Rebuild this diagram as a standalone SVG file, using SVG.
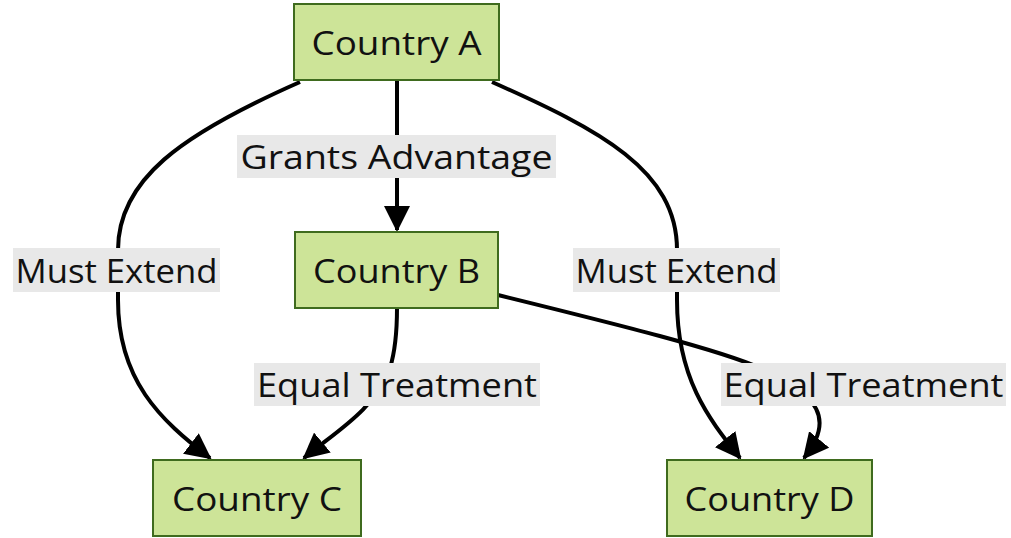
<svg xmlns="http://www.w3.org/2000/svg" width="1011" height="538" viewBox="0 0 1011 538">
<style>
.node rect{fill:#cde498;stroke:#3f6b1e;stroke-width:2}
text{font-family:"Open Sans","Noto Sans",sans-serif;font-size:33px;fill:#111;text-anchor:middle;dominant-baseline:central}
.edge{fill:none;stroke:#000;stroke-width:4}
.lbl rect{fill:#e8e8e8}
</style>
<defs>
<marker id="ah" markerUnits="userSpaceOnUse" markerWidth="26" markerHeight="26" viewBox="0 0 26 26" refX="24" refY="13" orient="auto">
<path d="M0,0 L26,13 L0,26 Z" fill="#000"/>
</marker>
</defs>
<rect width="1011" height="538" fill="#fff"/>
<g id="connectors">
<path class="edge" d="M397,80 L397,230" marker-end="url(#ah)"/>
<path class="edge" d="M300,82 C180,135 118,180 118,250 L118,300 C118,380 160,420 210,458" marker-end="url(#ah)"/>
<path class="edge" d="M492,82 C600,130 677,170 677,250 L677,300 C677,380 710,420 740,458" marker-end="url(#ah)"/>
<path class="edge" d="M397,308 C397,340 394,355 390,368 C375,410 335,432 304,458" marker-end="url(#ah)"/>
<path class="edge" d="M498,295 C620,325 720,350 760,368 C820,395 835,420 804,458" marker-end="url(#ah)"/>
</g>
<g id="edge-labels">
<g class="lbl" id="lbl-ab"><rect x="237" y="135" width="319" height="43"/><text x="396.5" y="156.5" textLength="312" lengthAdjust="spacingAndGlyphs">Grants Advantage</text></g>
<g class="lbl" id="lbl-ac"><rect x="13" y="248" width="207" height="44"/><text x="116.5" y="270" textLength="202" lengthAdjust="spacingAndGlyphs">Must Extend</text></g>
<g class="lbl" id="lbl-ad"><rect x="573" y="248" width="207" height="44"/><text x="676.5" y="270" textLength="202" lengthAdjust="spacingAndGlyphs">Must Extend</text></g>
<g class="lbl" id="lbl-bc"><rect x="254" y="363" width="286" height="43"/><text x="397" y="384.5" textLength="280" lengthAdjust="spacingAndGlyphs">Equal Treatment</text></g>
<g class="lbl" id="lbl-bd"><rect x="721" y="363" width="285" height="43"/><text x="863.5" y="384.5" textLength="280" lengthAdjust="spacingAndGlyphs">Equal Treatment</text></g>
</g>
<g class="node" id="node-a"><rect x="294" y="4" width="205" height="76"/><text x="396.5" y="42" textLength="170" lengthAdjust="spacingAndGlyphs">Country A</text></g>
<g class="node" id="node-b"><rect x="295" y="232" width="203" height="76"/><text x="396.5" y="270" textLength="167" lengthAdjust="spacingAndGlyphs">Country B</text></g>
<g class="node" id="node-c"><rect x="153" y="460" width="208" height="76"/><text x="257" y="498" textLength="170" lengthAdjust="spacingAndGlyphs">Country C</text></g>
<g class="node" id="node-d"><rect x="667" y="460" width="205" height="76"/><text x="769.5" y="498" textLength="170" lengthAdjust="spacingAndGlyphs">Country D</text></g>
</svg>
